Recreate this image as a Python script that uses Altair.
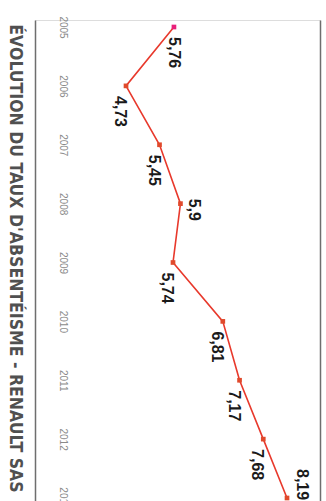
import altair as alt
import pandas as pd

years = [2005, 2006, 2007, 2008, 2009, 2010, 2011, 2012, 2013]
rates = [5.76, 4.73, 5.45, 5.90, 5.74, 6.81, 7.17, 7.68, 8.19]
labels = ["5,76", "4,73", "5,45", "5,9", "5,74", "6,81", "7,17", "7,68", "8,19"]
title_text = "ÉVOLUTION DU TAUX D'ABSENTÉISME - RENAULT SAS"

df = pd.DataFrame({"year": years, "rate": rates, "label": labels})

frame_color = "#6e6e6e"
xs = alt.Scale(domain=[2.774, 8.899], nice=False, zero=False)
ys = alt.Scale(domain=[2004.881, 2013.051], nice=False, zero=False, reverse=True)

base = alt.Chart(df)

line = base.mark_line(color="#e8392c", strokeWidth=1.6).encode(
    x=alt.X("rate:Q", scale=xs,
            axis=alt.Axis(orient="top", domain=True, domainColor=frame_color, domainWidth=1.5,
                          labels=False, ticks=False, grid=False, title=None)),
    y=alt.Y("year:Q", scale=ys,
            axis=alt.Axis(orient="left", values=years, format="d", domainColor=frame_color,
                          domainWidth=1.5, ticks=False, grid=False, title=None,
                          labelAngle=90, labelAlign="center", labelBaseline="bottom",
                          labelPadding=-22, labelFont="Liberation Sans", labelFontSize=10,
                          labelColor="#8a8a8a")),
    order="year:Q",
)

points = base.mark_square(size=22, opacity=1).encode(
    x=alt.X("rate:Q", scale=xs, axis=None),
    y=alt.Y("year:Q", scale=ys,
            axis=alt.Axis(orient="right", domain=True, domainColor=frame_color, domainWidth=1.5,
                          labels=False, ticks=False, grid=False, title=None)),
    color=alt.condition(alt.datum.year == 2005, alt.value("#e8207a"), alt.value("#e04a2c")),
)

text_style = dict(angle=90, align="left", baseline="middle", font="Liberation Sans",
                  fontSize=16, fontWeight="bold", color="#1a1a1a")

def enc(ch):
    return ch.encode(x=alt.X("rate:Q", scale=xs, axis=None),
                     y=alt.Y("year:Q", scale=ys, axis=None), text="label:N")

txt_2005 = enc(base.transform_filter(alt.datum.year == 2005).mark_text(
    dx=10, dy=0, **text_style))
txt_below = enc(base.transform_filter(
    (alt.datum.year != 2005) & (alt.datum.year != 2008) & (alt.datum.year != 2013)
).mark_text(dx=10, dy=6, **text_style))
txt_2008 = enc(base.transform_filter(alt.datum.year == 2008).mark_text(
    dx=-5, dy=-14, **text_style))
txt_2013 = enc(base.transform_filter(alt.datum.year == 2013).mark_text(
    dx=-29, dy=-15, **text_style))

chart = alt.layer(line, points, txt_2005, txt_below, txt_2008, txt_2013).properties(
    width=285,
    height=481,
    title=alt.TitleParams(title_text, orient="left", angle=90, anchor="middle", baseline="top",
                          font="Liberation Sans Narrow, DejaVu Sans Condensed", fontSize=17.5,
                          fontWeight="bold", color="#505050", offset=-6, dx=-2),
    padding={"left": 35, "top": 20, "right": 6, "bottom": 0},
    autosize=alt.AutoSizeParams(type="none"),
).configure_view(stroke=None).configure(background="white")

chart.save("out.html", embed_options={"renderer": "svg", "actions": False})
